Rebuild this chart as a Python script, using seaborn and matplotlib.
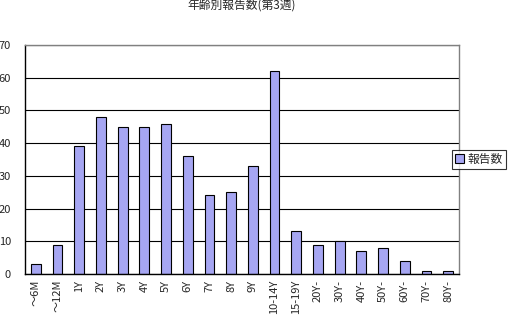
import matplotlib
matplotlib.use("Agg")
import matplotlib.pyplot as plt
import seaborn as sns
import pandas as pd
import numpy as np

categories = ["～6M", "～12M", "1Y", "2Y", "3Y", "4Y", "5Y", "6Y", "7Y", "8Y", "9Y",
              "10-14Y", "15-19Y", "20Y-", "30Y-", "40Y-", "50Y-", "60Y-", "70Y-", "80Y-"]
values = [3, 9, 39, 48, 45, 45, 46, 36, 24, 25, 33, 62, 13, 9, 10, 7, 8, 4, 1, 1]
series_name = "報告数"
title = "年齢別報告数(第3週)"
yticks = [0, 10, 20, 30, 40, 50, 60, 70]

sns.set_style("white")
plt.rcParams['font.family'] = ['Noto Sans CJK JP', 'DejaVu Sans']

df = pd.DataFrame({"cat": categories, "val": values, "series": series_name})

fig = plt.figure(figsize=(5.12, 3.28), dpi=100)
ax = fig.add_axes([25/512, 1-274/328, (459-25)/512, (274-45)/328])

ax.set_axisbelow(True)
ax.yaxis.grid(True, color="black", linewidth=0.8)
sns.barplot(data=df, x="cat", y="val", hue="series", palette=["#9999FF"],
            edgecolor="black", linewidth=0.8, width=0.45, ax=ax, legend=True)

ax.set_ylim(0, 70)
ax.set_yticks(yticks)
ax.set_xlim(-0.5, len(categories) - 0.5)
ax.set_xlabel("")
ax.set_ylabel("")
ax.tick_params(axis="y", labelsize=8, length=0, pad=10)
ax.tick_params(axis="x", labelsize=8, length=0, pad=4)
for lbl in ax.get_xticklabels():
    lbl.set_rotation(90)

for s in ["left", "bottom"]:
    ax.spines[s].set_color("black")
    ax.spines[s].set_linewidth(1)
for s in ["top", "right"]:
    ax.spines[s].set_color("#808080")
    ax.spines[s].set_linewidth(1)

ax.set_title(title, fontsize=8.5, pad=26)

leg = ax.legend(loc="center left", bbox_to_anchor=(0.983, 0.5), fontsize=8.5,
                frameon=True, fancybox=False, edgecolor="black",
                handlelength=0.8, handleheight=0.8, handletextpad=0.3,
                borderpad=0.25, borderaxespad=0.0)
leg.get_frame().set_linewidth(0.8)

fig.savefig("out.png", dpi=100)
